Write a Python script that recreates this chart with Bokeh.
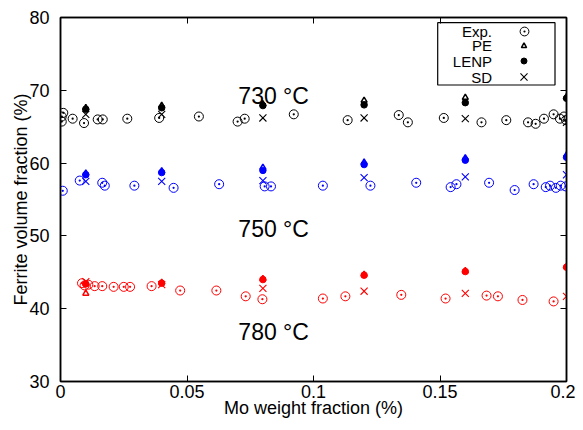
from bokeh.plotting import figure
from bokeh.models import (LinearAxis, FixedTicker, Label, Legend, LegendItem,
                          BoxAnnotation, Range1d)
from bokeh.embed import file_html
from bokeh.resources import INLINE

# ---------------- data ----------------
x_ticks = [0, 0.05, 0.1, 0.15, 0.2]
x_tick_labels = ["0", "0.05", "0.1", "0.15", "0.2"]
y_ticks = [30, 40, 50, 60, 70, 80]

# Experimental points
exp730_x = [0.0005, 0.0005, 0.0011, 0.0048, 0.0093, 0.0147, 0.0167, 0.0264, 0.039, 0.0547,
            0.070, 0.0728, 0.0922, 0.1135, 0.1337, 0.1373, 0.1515, 0.1664, 0.1762, 0.1848,
            0.1878, 0.1911, 0.1949, 0.1974, 0.199, 0.1998]
exp730_y = [66.4, 65.7, 66.9, 66.1, 65.5, 66.0, 66.0, 66.1, 66.2, 66.4,
            65.7, 66.1, 66.7, 65.9, 66.6, 65.6, 66.2, 65.6, 65.9, 65.6,
            65.4, 66.1, 66.7, 66.1, 66.4, 65.9]
exp750_x = [0.0009, 0.0076, 0.0165, 0.0175, 0.0292, 0.0447, 0.0627, 0.0807, 0.0832, 0.1037,
            0.1225, 0.1406, 0.1542, 0.1565, 0.1694, 0.1795, 0.187, 0.1918, 0.1935, 0.1958,
            0.1977, 0.1997]
exp750_y = [56.2, 57.6, 57.3, 56.9, 56.9, 56.6, 57.1, 56.8, 56.8, 56.9,
            56.9, 57.3, 56.7, 57.1, 57.3, 56.3, 57.1, 56.7, 56.9, 56.6,
            56.9, 56.8]
exp780_x = [0.0085, 0.0095, 0.011, 0.0135, 0.0165, 0.021, 0.025, 0.0275, 0.036, 0.0473,
            0.0616, 0.0732, 0.0798, 0.1037, 0.1126, 0.1347, 0.1522, 0.1684, 0.1729, 0.1826,
            0.1949]
exp780_y = [43.5, 43.2, 43.3, 43.1, 43.1, 43.0, 43.0, 43.0, 43.1, 42.5,
            42.5, 41.7, 41.3, 41.4, 41.7, 41.9, 41.4, 41.8, 41.7, 41.2,
            41.0]

# Model predictions
model_x = [0.01, 0.04, 0.08, 0.12, 0.16, 0.2]
pe730 = [67.6, 67.9, 68.1, 68.6, 69.0, 69.1]
lenp730 = [67.4, 67.6, 67.9, 68.0, 68.3, 68.9]
sd730 = [66.7, 66.7, 66.2, 66.2, 66.1, 65.6]
pe750 = [58.6, 58.9, 59.4, 60.1, 60.7, 61.1]
lenp750 = [58.4, 58.7, 59.0, 59.8, 60.4, 60.8]
sd750 = [57.5, 57.5, 57.6, 58.0, 58.1, 58.4]
pe780 = [42.1, 43.6, 44.1, 44.7, 45.2, 45.8]
lenp780 = [43.4, 43.5, 44.0, 44.6, 45.1, 45.7]
sd780 = [43.7, 43.3, 42.8, 42.4, 42.1, 41.7]

temp_labels = ["730 °C", "750 °C", "780 °C"]
temp_label_x = [0.0703, 0.0703, 0.0703]
temp_label_y = [69.17, 50.98, 36.8]

legend_names = ["Exp.", "PE", "LENP", "SD"]

# ---------------- figure ----------------
FONT = "Liberation Sans"
p = figure(width=575, height=422, output_backend="svg", toolbar_location=None,
           x_range=Range1d(0, 0.2), y_range=Range1d(30, 80),
           min_border_left=60, min_border_right=9, min_border_top=17, min_border_bottom=41)
p.background_fill_color = "white"
p.border_fill_color = "white"
p.outline_line_color = "black"
p.outline_line_width = 1.5
p.grid.visible = False

for ax in [p.xaxis[0], p.yaxis[0]]:
    ax.axis_line_width = 1.5
    ax.axis_line_color = "black"
    ax.major_tick_line_color = "black"
    ax.major_tick_in = 6
    ax.major_tick_out = 0
    ax.minor_tick_line_color = None
    ax.major_label_text_font = FONT
    ax.major_label_text_font_size = "18px"
    ax.major_label_text_color = "black"
    ax.axis_label_text_font = FONT
    ax.axis_label_text_font_size = "18px"
    ax.axis_label_text_font_style = "normal"
    ax.axis_label_text_color = "black"

p.xaxis[0].ticker = FixedTicker(ticks=x_ticks)
p.xaxis[0].major_label_overrides = {t: s for t, s in zip(x_ticks, x_tick_labels)}
p.xaxis[0].major_label_standoff = 3
p.xaxis[0].axis_label = "Mo weight fraction (%)"
p.xaxis[0].axis_label_standoff = -3
p.yaxis[0].ticker = FixedTicker(ticks=y_ticks)
p.yaxis[0].major_label_standoff = 11
p.yaxis[0].axis_label = "Ferrite volume fraction (%)"
p.yaxis[0].axis_label_standoff = -5

# mirrored axes (ticks only, labels not drawn)
for loc, ticks in [("right", y_ticks), ("above", x_ticks)]:
    ax = LinearAxis(ticker=FixedTicker(ticks=ticks))
    ax.major_label_text_font_size = "1px"
    ax.major_label_text_color = None
    ax.major_label_text_alpha = 0
    ax.major_label_standoff = 0
    ax.major_tick_in = 6
    ax.major_tick_out = 0
    ax.minor_tick_line_color = None
    ax.axis_line_width = 1.5
    ax.axis_line_color = "black"
    p.add_layout(ax, loc)

colors = ["black", "#0000ff", "#ff0000"]
exps = [(exp730_x, exp730_y), (exp750_x, exp750_y), (exp780_x, exp780_y)]
pes = [pe730, pe750, pe780]
lenps = [lenp730, lenp750, lenp780]
sds = [sd730, sd750, sd780]

r_exp, r_pe, r_lenp, r_sd = [], [], [], []
for c, (ex, ey), pe, ln, sd in zip(colors, exps, pes, lenps, sds):
    r_exp.append(p.scatter(ex, ey, marker="circle_dot", size=9, fill_color=None,
                           line_color=c, line_width=1))
    r_lenp.append(p.scatter(model_x, ln, marker="circle", size=6.5, fill_color=c,
                            line_color=c, line_width=1))
    r_pe.append(p.scatter(model_x, pe, marker="triangle", size=6, fill_color=None,
                          line_color=c, line_width=1.5))
    r_sd.append(p.scatter(model_x, sd, marker="x", size=10, line_color=c, line_width=1.1))

for t, tx, ty in zip(temp_labels, temp_label_x, temp_label_y):
    p.add_layout(Label(x=tx, y=ty, text=t, text_font=FONT, text_font_size="23px",
                       text_color="black", text_baseline="alphabetic"))

# ---- legend: box, right-aligned texts, symbols ----
p.add_layout(BoxAnnotation(left=377.2, right=494.5, bottom=296.5, top=358.8,
                           left_units="screen", right_units="screen",
                           bottom_units="screen", top_units="screen",
                           fill_color=None, fill_alpha=0, line_color="black",
                           line_width=1.2, line_alpha=1))
row_y = [350.5, 336.0, 320.5, 304.5]
glyph_h = [22, 13, 15, 25]
rends = [r_exp, r_pe, r_lenp, r_sd]
for name, ry, gh, rr in zip(legend_names, row_y, glyph_h, rends):
    p.add_layout(Label(x=431.5, y=ry, x_units="screen", y_units="screen", text=name,
                       text_align="right", text_baseline="middle", text_font=FONT,
                       text_font_size="15px", text_color="black"))
    lg = Legend(items=[LegendItem(label=" ", renderers=[rr[0]])],
                location=(463.8 - gh / 2, ry - gh / 2),
                glyph_width=gh, glyph_height=gh, label_width=0, label_height=0,
                label_standoff=0, padding=0, spacing=0, margin=0,
                label_text_font_size="1px", label_text_alpha=0,
                label_text_color=None, border_line_alpha=0,
                background_fill_alpha=0)
    p.add_layout(lg, "center")

open("out.html", "w").write(file_html(p, INLINE))
